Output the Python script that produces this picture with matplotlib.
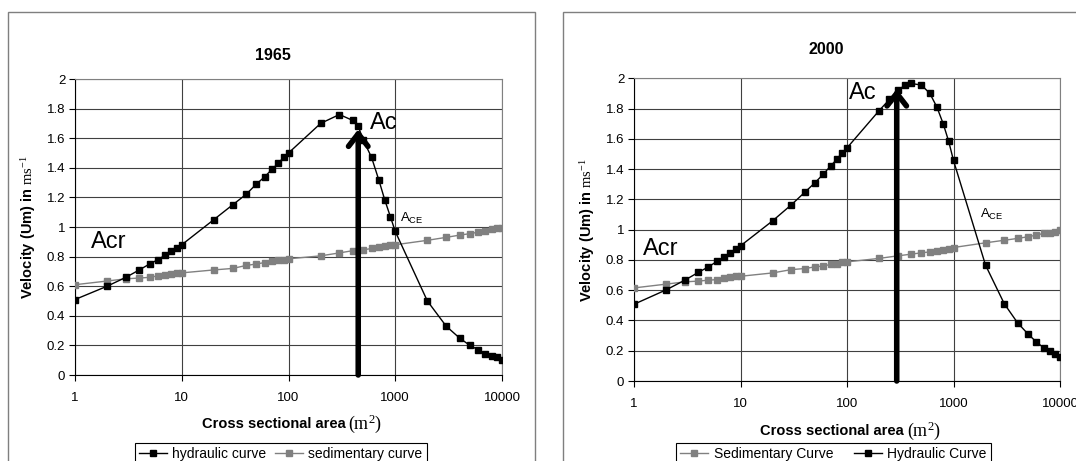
import matplotlib
matplotlib.use("Agg")
import matplotlib.pyplot as plt
from matplotlib.patches import Rectangle
from matplotlib.ticker import NullLocator, FuncFormatter

plt.rcParams['font.family'] = ['Liberation Sans', 'DejaVu Sans']
plt.rcParams['mathtext.fontset'] = 'custom'
plt.rcParams['mathtext.rm'] = 'Liberation Serif'
plt.rcParams['mathtext.it'] = 'Liberation Serif:italic'
plt.rcParams['mathtext.sf'] = 'Liberation Sans'

# ---- 1965 panel, values
area_hyd_1965 = [1, 2, 3, 4, 5, 6, 7, 8, 9, 10,
                 20, 30, 40, 50, 60, 70, 80, 90, 100,
                 200, 300, 400, 450, 500, 600, 700, 800, 900, 1000,
                 2000, 3000, 4000, 5000, 6000, 7000, 8000, 9000, 10000]
vel_hyd_1965 = [0.51, 0.60, 0.66, 0.71, 0.75, 0.78, 0.81, 0.84, 0.86, 0.88,
                1.05, 1.15, 1.22, 1.29, 1.34, 1.39, 1.43, 1.47, 1.50,
                1.70, 1.76, 1.72, 1.68, 1.59, 1.47, 1.32, 1.18, 1.07, 0.97,
                0.50, 0.33, 0.25, 0.20, 0.17, 0.14, 0.13, 0.12, 0.10]
area_sed_1965 = [1, 2, 3, 4, 5, 6, 7, 8, 9, 10,
                 20, 30, 40, 50, 60, 70, 80, 90, 100,
                 200, 300, 400, 500, 600, 700, 800, 900, 1000,
                 2000, 3000, 4000, 5000, 6000, 7000, 8000, 9000, 10000]
vel_sed_1965 = [0.61, 0.635, 0.65, 0.655, 0.66, 0.67, 0.675, 0.685, 0.69, 0.69,
                0.71, 0.72, 0.74, 0.75, 0.76, 0.77, 0.775, 0.78, 0.785,
                0.805, 0.825, 0.84, 0.845, 0.855, 0.865, 0.87, 0.875, 0.88,
                0.91, 0.93, 0.945, 0.955, 0.965, 0.975, 0.985, 0.99, 0.99]

# ---- 2000 panel
area_hyd_2000 = [1, 2, 3, 4, 5, 6, 7, 8, 9, 10,
                 20, 30, 40, 50, 60, 70, 80, 90, 100,
                 200, 250, 300, 350, 400, 500, 600, 700, 800, 900, 1000,
                 2000, 3000, 4000, 5000, 6000, 7000, 8000, 9000, 10000]
vel_hyd_2000 = [0.507, 0.602, 0.666, 0.717, 0.754, 0.79, 0.816, 0.849, 0.87, 0.893,
                1.058, 1.164, 1.246, 1.31, 1.367, 1.42, 1.464, 1.508, 1.54,
                1.786, 1.86, 1.92, 1.955, 1.966, 1.955, 1.90, 1.808, 1.70, 1.585, 1.457,
                0.765, 0.51, 0.384, 0.311, 0.258, 0.22, 0.198, 0.176, 0.159]
area_sed_2000 = list(area_sed_1965)
vel_sed_2000 = [0.615, 0.64, 0.655, 0.66, 0.666, 0.67, 0.68, 0.688, 0.692, 0.692,
                0.714, 0.736, 0.743, 0.754, 0.76, 0.77, 0.776, 0.783, 0.787,
                0.81, 0.827, 0.838, 0.847, 0.853, 0.86, 0.868, 0.875, 0.882,
                0.913, 0.93, 0.942, 0.953, 0.964, 0.975, 0.98, 0.987, 0.997]

# critical area arrows (x, tip velocity)
ac_1965 = (450, 1.66)
ac_2000 = (293, 1.93)

x_ticks = [1, 10, 100, 1000, 10000]
x_ticklabels = ['1', '10', '100', '1000', '10000']

W, H = 1076, 461
fig = plt.figure(figsize=(W / 100, H / 100), dpi=100)

# chart-area frames (the picture is cropped at the bottom / right)
fig.patches.append(Rectangle((7.5 / W, -0.1), (535 - 7.5) / W, 1.1 - 11.7 / H,
                             transform=fig.transFigure, fill=False,
                             edgecolor='#7f7f7f', lw=1.0))
fig.patches.append(Rectangle((562.7 / W, -0.1), 0.6, 1.1 - 11.7 / H,
                             transform=fig.transFigure, fill=False,
                             edgecolor='#7f7f7f', lw=1.0))


def setup_axes(ax, title, title_x, title_y):
    ax.set_xscale('log')
    ax.set_xlim(1, 10000)
    ax.set_ylim(0, 2)
    ax.set_xticks(x_ticks)
    ax.set_xticklabels(x_ticklabels)
    ax.xaxis.set_minor_locator(NullLocator())
    ax.set_yticks([i * 0.2 for i in range(11)])
    ax.yaxis.set_major_formatter(FuncFormatter(lambda v, p: f"{v:g}"))
    ax.tick_params(direction='out', length=4, width=0.8, labelsize=9.5,
                   colors='black', pad=3)
    ax.tick_params(axis='x', pad=8)
    ax.grid(True, which='major', color='#404040', lw=0.8)
    ax.set_axisbelow(True)
    for s in ['top', 'right']:
        ax.spines[s].set_color('#808080')
    for s in ['left', 'bottom']:
        ax.spines[s].set_color('black')
    fig.text(title_x / W, 1 - title_y / H, title, ha='center', va='center',
             fontsize=11.5, fontweight='bold')
    ax.set_ylabel(r"Velocity (Um) in $\mathrm{ms^{-1}}$", fontsize=10.5,
                  fontweight='bold', labelpad=6)
    ax.yaxis.label.set_fontsize(10.5)
    t = ax.text(0.465, -0.165, "Cross sectional area", transform=ax.transAxes,
                ha='center', va='center', fontsize=10.5, fontweight='bold')
    ax.annotate(r"$\mathrm{(m^2)}$", xy=(1, 0.5), xycoords=t, xytext=(2, 0),
                textcoords='offset points', ha='left', va='center', fontsize=13)


def draw_arrow(ax, ac):
    ax.annotate('', xy=(ac[0], ac[1]), xytext=(ac[0], 0),
                arrowprops=dict(arrowstyle='->, head_length=0.45, head_width=0.35',
                                lw=4, color='black', mutation_scale=20,
                                shrinkA=0, shrinkB=0), zorder=5)


# ---- left panel: 1965
ax1 = fig.add_axes([75 / W, 1 - 375 / H, (502 - 75) / W, (375 - 79) / H])
setup_axes(ax1, '1965', 273, 55)
h1, = ax1.plot(area_hyd_1965, vel_hyd_1965, color='black', lw=1.0,
               marker='s', ms=4.2, label='hydraulic curve', zorder=4)
s1, = ax1.plot(area_sed_1965, vel_sed_1965, color='#808080', lw=1.0,
               marker='s', ms=4.2, label='sedimentary curve', zorder=3)
draw_arrow(ax1, ac_1965)
ax1.text(1.4, 0.90, 'Acr', fontsize=17, va='center')
ax1.text(580, 1.70, 'Ac', fontsize=17, va='center')
ax1.text(1110, 1.06, r"$\mathsf{A_{CE}}$", fontsize=9.5, va='center')
ax1.legend(handles=[h1, s1], loc='upper left', ncol=2,
           bbox_to_anchor=(135 / W, 1 - 443 / H), bbox_transform=fig.transFigure,
           fontsize=10, frameon=True, fancybox=False, edgecolor='black',
           framealpha=1, handlelength=2.0, handletextpad=0.4,
           columnspacing=0.6, borderpad=0.3, borderaxespad=0)
ax1.get_legend().get_frame().set_linewidth(0.8)

# ---- right panel: 2000
ax2 = fig.add_axes([634 / W, 1 - 381 / H, (1060 - 634) / W, (381 - 78.3) / H])
setup_axes(ax2, '2000', 826, 50)
s2, = ax2.plot(area_sed_2000, vel_sed_2000, color='#808080', lw=1.0,
               marker='s', ms=4.2, label='Sedimentary Curve', zorder=3)
h2, = ax2.plot(area_hyd_2000, vel_hyd_2000, color='black', lw=1.0,
               marker='s', ms=4.2, label='Hydraulic Curve', zorder=4)
draw_arrow(ax2, ac_2000)
ax2.text(1.22, 0.87, 'Acr', fontsize=17, va='center')
ax2.text(105, 1.90, 'Ac', fontsize=17, va='center')
ax2.text(1774, 1.10, r"$\mathsf{A_{CE}}$", fontsize=9.5, va='center')
ax2.legend(handles=[s2, h2], loc='upper left', ncol=2,
           bbox_to_anchor=(676 / W, 1 - 443 / H), bbox_transform=fig.transFigure,
           fontsize=10, frameon=True, fancybox=False, edgecolor='black',
           framealpha=1, handlelength=2.0, handletextpad=0.4,
           columnspacing=1.5, borderpad=0.3, borderaxespad=0)
ax2.get_legend().get_frame().set_linewidth(0.8)

fig.savefig('out.png', dpi=100)
